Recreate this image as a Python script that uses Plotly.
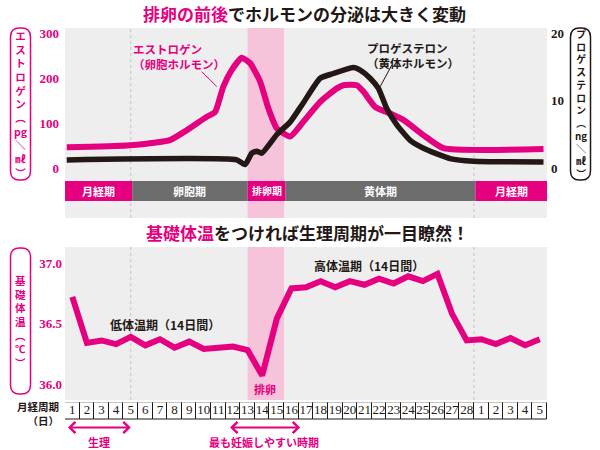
import plotly.graph_objects as go

# ---------------- data ----------------
days = list(range(1, 34))
day_labels = [str(i) for i in range(1, 29)] + ["1", "2", "3", "4", "5"]

temperature = [36.72, 36.34, 36.36, 36.33, 36.39, 36.32, 36.37, 36.30, 36.35, 36.29,
               36.30, 36.31, 36.28, 36.07, 36.54, 36.79, 36.80, 36.85, 36.80, 36.85,
               36.82, 36.87, 36.83, 36.89, 36.85, 36.91, 36.58, 36.36, 36.37, 36.33,
               36.38, 36.32, 36.37]

estrogen_day = [0.62, 4.73, 6.10, 7.69, 8.84, 10.21, 10.77, 11.34, 11.92, 12.60,
                13.17, 13.86, 14.42, 15.0, 15.91, 16.82, 17.97, 19.11, 19.56, 20.48,
                20.93, 21.73, 22.76, 23.67, 25.04, 26.41, 33.26]
estrogen = [46, 50, 54, 62, 84, 114, 124, 181, 218, 245,
            233, 192, 133, 88, 70, 103, 147, 177, 184, 184,
            170, 136, 121, 107, 73, 44, 42]

progesterone_day = [0.62, 12.26, 12.83, 13.29, 13.63, 13.97, 15.02, 15.91, 16.80, 17.97,
                    18.88, 20.25, 20.71, 21.39, 21.96, 22.53, 23.22, 24.13, 25.27, 26.86,
                    28.47, 33.26]
progesterone = [1.2, 1.2, 0.5, 2.2, 2.5, 2.2, 5.0, 6.8, 9.6, 13.3,
                14.0, 14.9, 14.5, 13.3, 11.8, 8.8, 6.4, 4.1, 2.7, 1.4,
                1.0, 0.9]

phase_names = ["月経期", "卵胞期", "排卵期", "黄体期", "月経期"]
phase_start = [0.5, 5.1, 13.0, 15.6, 28.6]
phase_end = [5.1, 13.0, 15.6, 28.6, 33.5]

ovulation_band = [13.0, 15.5]
divider_days = [5.0, 28.5]

estrogen_ticks = [0, 100, 200, 300]
progesterone_ticks = [0, 10, 20]
temp_ticks = [36.0, 36.5, 37.0]
temp_ticktext = ["36.0", "36.5", "37.0"]

period_arrow = [0.6, 5.0]
fertile_arrow = [11.7, 16.6]

estrogen_axis_title = ["エ", "ス", "ト", "ロ", "ゲ", "ン", "︵", "pg", "＼", "㎖", "︶"]
progesterone_axis_title = ["プ", "ロ", "ゲ", "ス", "テ", "ロ", "ン", "︵", "ng", "＼", "㎖", "︶"]
temp_axis_title = ["基", "礎", "体", "温", "︵", "℃", "︶"]

# ---------------- style ----------------
PINK = "#e4007f"
BLACK = "#231815"
BG = "#eeeeee"
PHASE_GRAY = "#6d6d6d"
BAND = "#f6c3da"
JP = "Noto Sans CJK JP"
SERIF = "Liberation Serif"
W, H = 600, 450


def px_x(x):
    return x / W


def px_y(y):
    return 1 - y / H


fig = go.Figure()

# hormone lines
fig.add_trace(go.Scatter(x=estrogen_day, y=estrogen, mode="lines",
                         line=dict(color=PINK, width=6, shape="spline", smoothing=0.5),
                         xaxis="x", yaxis="y", hoverinfo="skip"))
fig.add_trace(go.Scatter(x=progesterone_day, y=progesterone, mode="lines",
                         line=dict(color=BLACK, width=5.5, shape="spline", smoothing=0.5),
                         xaxis="x", yaxis="y2", hoverinfo="skip"))
# temperature
fig.add_trace(go.Scatter(x=days, y=temperature, mode="lines",
                         line=dict(color=PINK, width=6),
                         xaxis="x2", yaxis="y3", hoverinfo="skip"))

# day cells (row axis: units are pixels below the row top, negative downward)
CELL_H = 17
fig.add_trace(go.Bar(x=days, y=[CELL_H] * len(days), base=[-CELL_H] * len(days), width=1,
                     marker=dict(color="white", line=dict(color=BLACK, width=1)),
                     xaxis="x3", yaxis="y4", hoverinfo="skip"))
fig.add_trace(go.Scatter(x=days, y=[-CELL_H / 2] * len(days), text=day_labels, mode="text",
                         textfont=dict(family=SERIF, size=13, color=BLACK),
                         xaxis="x3", yaxis="y4", hoverinfo="skip"))

shapes = []
annotations = []


def note(**kw):
    kw.setdefault("showarrow", False)
    kw.setdefault("xanchor", "center")
    kw.setdefault("yanchor", "middle")
    annotations.append(kw)


# gray backgrounds
for xr, yr in (("x domain", "y domain"), ("x2 domain", "y3 domain")):
    shapes.append(dict(type="rect", xref=xr, yref=yr, x0=0, x1=1, y0=0, y1=1,
                       fillcolor=BG, line=dict(width=0), layer="below"))

# ovulation bands and dividers
for xr, yr in (("x", "y domain"), ("x2", "y3 domain")):
    shapes.append(dict(type="rect", xref=xr, yref=yr, x0=ovulation_band[0], x1=ovulation_band[1],
                       y0=0, y1=1, fillcolor=BAND, line=dict(width=0), layer="below"))
    for d in divider_days:
        shapes.append(dict(type="line", xref=xr, yref=yr, x0=d, x1=d, y0=0, y1=1,
                           line=dict(color="#c4c4c4", width=1, dash="dot"), layer="below"))

# phase bar
BAR_TOP, BAR_BOT = -28.9, -73.3
for name, s, e in zip(phase_names, phase_start, phase_end):
    col = PINK if name in ("月経期", "排卵期") else PHASE_GRAY
    shapes.append(dict(type="rect", xref="x", yref="y", x0=s, x1=e, y0=BAR_BOT, y1=BAR_TOP,
                       fillcolor=col, line=dict(width=0), layer="below"))
    note(xref="x", yref="y", x=(s + e) / 2, y=(BAR_TOP + BAR_BOT) / 2,
         text="<b>%s</b>" % name,
         font=dict(family=JP, size=10 if name == "排卵期" else 11, color="white"))


# rounded label boxes
def rrect(x0, y0, x1, y1, r, color):
    def P(x, y):
        return "%.5f,%.5f" % (px_x(x), px_y(y))
    path = ("M %s L %s Q %s %s L %s Q %s %s L %s Q %s %s L %s Q %s %s Z" % (
        P(x0 + r, y0), P(x1 - r, y0), P(x1, y0), P(x1, y0 + r), P(x1, y1 - r),
        P(x1, y1), P(x1 - r, y1), P(x0 + r, y1), P(x0, y1), P(x0, y1 - r),
        P(x0, y0 + r), P(x0, y0), P(x0 + r, y0)))
    shapes.append(dict(type="path", xref="paper", yref="paper", path=path,
                       line=dict(color=color, width=1.5), fillcolor="rgba(0,0,0,0)"))


def vtext(chars, x, y, color, size):
    note(xref="paper", yref="paper", x=px_x(x), y=px_y(y),
         text="<b>" + "<br>".join(chars) + "</b>",
         font=dict(family=JP, size=size, color=color))


rrect(10.5, 28, 30.5, 180, 9, PINK)
vtext(estrogen_axis_title, 20.5, 104, PINK, 10.5)
rrect(570.5, 28, 590.5, 180, 9, BLACK)
vtext(progesterone_axis_title, 580.5, 104, BLACK, 9.8)
rrect(10.5, 248, 30.5, 394, 9, PINK)
vtext(temp_axis_title, 20.5, 321, PINK, 10.5)

# titles
note(xref="paper", yref="paper", x=px_x(304), y=px_y(14),
     text="<b><span style='color:%s'>排卵の前後</span>でホルモンの分泌は大きく変動</b>" % PINK,
     font=dict(family=JP, size=17, color=BLACK))
note(xref="paper", yref="paper", x=px_x(307), y=px_y(232),
     text="<b><span style='color:%s'>基礎体温</span>をつければ生理周期が一目瞭然！</b>" % PINK,
     font=dict(family=JP, size=17, color=BLACK))

# curve labels with leader lines
note(xref="x", yref="y", x=8.32, y=247, text="<b>エストロゲン<br>（卵胞ホルモン）</b>", align="left",
     font=dict(family=JP, size=11.5, color=PINK))
shapes.append(dict(type="line", xref="x", yref="y", x0=9.86, y0=214, x1=10.89, y1=181,
                   line=dict(color=PINK, width=1)))
note(xref="x", yref="y", x=24.33, y=251, text="<b>プロゲステロン<br>（黄体ホルモン）</b>", align="left",
     font=dict(family=JP, size=11.5, color=BLACK))
shapes.append(dict(type="line", xref="x", yref="y", x0=22.88, y0=229, x1=22.08, y1=181,
                   line=dict(color=BLACK, width=1)))

# temperature chart labels
note(xref="x2", yref="y3", x=7.35, y=36.49, text="<b>低体温期（14日間）</b>",
     font=dict(family=JP, size=12, color=BLACK))
note(xref="x2", yref="y3", x=21.32, y=36.98, text="<b>高体温期（14日間）</b>",
     font=dict(family=JP, size=12, color=BLACK))
note(xref="x2", yref="y3", x=14.2, y=35.96, text="<b>排卵</b>",
     font=dict(family=JP, size=11, color=PINK))

# bottom legend
note(xref="paper", yref="paper", x=px_x(61), y=px_y(413), xanchor="right", align="right",
     text="<b>月経周期<br>（日）</b>", font=dict(family=JP, size=10.5, color=BLACK))

ARROW_Y = -25
LABEL_Y = -39
for (a, b), label in ((period_arrow, "生理"), (fertile_arrow, "最も妊娠しやすい時期")):
    note(xref="x3", yref="y4", x=b, y=ARROW_Y, axref="x3", ayref="y4",
         ax=a, ay=ARROW_Y, text="", showarrow=True, arrowside="end+start",
         arrowhead=4, arrowsize=1.1, arrowwidth=2, arrowcolor=PINK,
         standoff=0, startstandoff=0)
    note(xref="x3", yref="y4", x=(a + b) / 2, y=LABEL_Y, text="<b>%s</b>" % label,
         font=dict(family=JP, size=11, color=PINK))

XR = [0.5, 33.5]
XDOM = [px_x(65), px_x(547)]
hidden_x = dict(domain=XDOM, range=XR, showticklabels=False, showgrid=False,
                zeroline=False, automargin=False, showline=False, ticks="")
fig.update_layout(
    width=W, height=H, margin=dict(l=0, r=0, t=0, b=0, autoexpand=False),
    paper_bgcolor="white", plot_bgcolor="rgba(0,0,0,0)", showlegend=False,
    shapes=shapes, annotations=annotations, bargap=0,
    xaxis=dict(hidden_x, anchor="y"),
    xaxis2=dict(hidden_x, anchor="y3"),
    xaxis3=dict(hidden_x, anchor="y4"),
    yaxis=dict(domain=[px_y(218), px_y(28)], range=[-111.1, 311.1], tickvals=estrogen_ticks,
               showgrid=False, zeroline=False, ticks="", ticklabelstandoff=5, automargin=False,
               tickfont=dict(family=SERIF, size=13, color=PINK, weight="bold"), anchor="x"),
    yaxis2=dict(overlaying="y", side="right", range=[-7.407, 20.74], tickvals=progesterone_ticks,
                showgrid=False, zeroline=False, ticks="", ticklabelstandoff=3, automargin=False,
                tickfont=dict(family=SERIF, size=13, color=BLACK, weight="bold"), anchor="x"),
    yaxis3=dict(domain=[px_y(400), px_y(247)], range=[35.868, 37.132], tickvals=temp_ticks,
                ticktext=temp_ticktext, showgrid=False, zeroline=False, ticks="",
                ticklabelstandoff=2, automargin=False,
                tickfont=dict(family=SERIF, size=13, color=PINK, weight="bold"), anchor="x2"),
    yaxis4=dict(domain=[0, px_y(402.5)], range=[-47.5, 0], showticklabels=False, showgrid=False,
                zeroline=False, automargin=False, ticks="", anchor="x3"),
)

fig.write_html("out.html", config={"displayModeBar": False},
               post_script="document.body.style.margin='0px';")
